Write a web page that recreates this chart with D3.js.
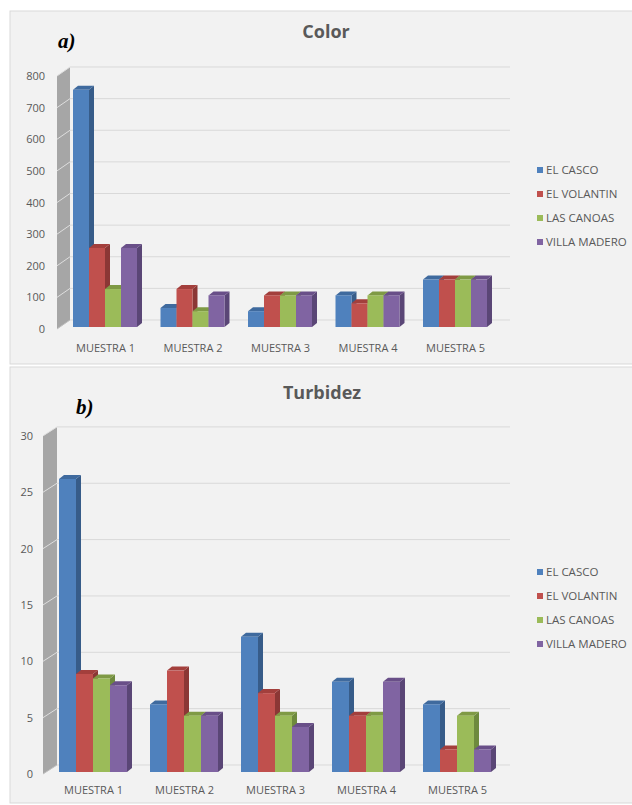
<!DOCTYPE html>
<html>
<head>
<meta charset="utf-8">
<script src="https://cdn.jsdelivr.net/npm/d3@7/dist/d3.min.js"></script>
<style>
  html, body { margin: 0; padding: 0; background: #ffffff; }
  svg { display: block; }
</style>
</head>
<body>
<svg id="chart" width="632" height="805"></svg>
<script>
// Sampling points and sites
const categories = ["MUESTRA 1", "MUESTRA 2", "MUESTRA 3", "MUESTRA 4", "MUESTRA 5"];
const series = ["EL CASCO", "EL VOLANTIN", "LAS CANOAS", "VILLA MADERO"];

// Color (one array per site, ordered like categories)
const colorElCasco     = [750, 60, 50, 100, 150];
const colorElVolantin  = [250, 120, 100, 75, 150];
const colorLasCanoas   = [120, 50, 100, 100, 150];
const colorVillaMadero = [250, 100, 100, 100, 150];
const colorTicks = [0, 100, 200, 300, 400, 500, 600, 700, 800];

// Turbidez
const turbElCasco     = [26, 6, 12, 8, 6];
const turbElVolantin  = [8.7, 9, 7, 5, 2];
const turbLasCanoas   = [8.3, 5, 5, 5, 5];
const turbVillaMadero = [7.7, 5, 4, 8, 2];
const turbTicks = [0, 5, 10, 15, 20, 25, 30];

const frontFill = ["#4f81bd", "#c0504d", "#9bbb59", "#8064a2"];
const topFill   = ["#3f6a9e", "#a33f3c", "#7f9a45", "#694f88"];
const sideFill  = ["#375c89", "#8b3735", "#6e8a3d", "#5a4676"];

const svg = d3.select("#chart");
const textColor = "#595959";
const fontSans = "'Open Sans', 'DejaVu Sans', sans-serif";

function drawPanel(cfg) {
  const g = svg.append("g");

  // panel background
  g.append("rect")
    .attr("x", cfg.panel[0]).attr("y", cfg.panel[1])
    .attr("width", cfg.panel[2]).attr("height", cfg.panel[3])
    .attr("fill", "#f2f2f2").attr("stroke", "#d9d9d9").attr("stroke-width", 1);

  const y = d3.scaleLinear().domain(cfg.domain).range(cfg.yRange);
  const x = d3.scalePoint().domain(categories).range(cfg.xRange);
  const xs = d3.scaleBand().domain(series).range([-cfg.groupW / 2, cfg.groupW / 2]).padding(0);

  const dBack = 7;    // vertical offset of the back wall from the bar plane
  const dFront = 2;   // offset of the front edge of the floor
  const wall = cfg.wall; // [leftX, rightX]

  // side wall
  const top = cfg.domain[1], bot = cfg.domain[0];
  g.append("polygon")
    .attr("points", [
      [wall[0], y(bot) + dFront], [wall[0], y(top) + dFront],
      [wall[1], y(top) - dBack], [wall[1], y(bot) - dBack]
    ].map(p => p.join(",")).join(" "))
    .attr("fill", "#a6a6a6");

  // gridlines on the back wall and the side wall
  g.selectAll(".grid").data(cfg.ticks).join("line")
    .attr("x1", wall[1]).attr("x2", cfg.gridEnd)
    .attr("y1", d => y(d) - dBack).attr("y2", d => y(d) - dBack)
    .attr("stroke", "#d9d9d9").attr("stroke-width", 1);
  g.selectAll(".wallgrid").data(cfg.ticks.slice(1)).join("line")
    .attr("x1", wall[0]).attr("x2", wall[1])
    .attr("y1", d => y(d) + dFront).attr("y2", d => y(d) - dBack)
    .attr("stroke", "#dedede").attr("stroke-width", 1);
  g.append("line")
    .attr("x1", wall[0]).attr("x2", wall[1])
    .attr("y1", y(bot) + dFront).attr("y2", y(bot) - dBack)
    .attr("stroke", "#bfbfbf").attr("stroke-width", 1);

  // value axis labels
  const axis = d3.axisLeft(y).tickValues(cfg.ticks).tickSize(0).tickPadding(0);
  const ax = g.append("g").attr("transform", `translate(${cfg.labelX},2)`).call(axis);
  ax.select(".domain").remove();
  ax.selectAll("text").attr("fill", textColor).style("font-family", fontSans).style("font-size", "11px");

  // category axis labels
  const cax = d3.axisBottom(x).tickSize(0).tickPadding(0);
  const cg = g.append("g").attr("transform", `translate(0,${cfg.catY})`).call(cax);
  cg.select(".domain").remove();
  cg.selectAll("text").attr("fill", textColor).style("font-family", fontSans).style("font-size", "11px");

  // 3D bars
  const dx = 5, dy = 4;
  const bw = xs.bandwidth();
  const base = y(0);
  categories.forEach((c, ci) => {
    series.forEach((s, si) => {
      const v = cfg.values[si][ci];
      const x0 = x(c) + xs(s);
      const yt = y(v);
      const bar = g.append("g");
      bar.append("polygon")
        .attr("points", [[x0 + bw, yt], [x0 + bw + dx, yt - dy], [x0 + bw + dx, base - dy], [x0 + bw, base]]
          .map(p => p.join(",")).join(" "))
        .attr("fill", sideFill[si]);
      bar.append("polygon")
        .attr("points", [[x0, yt], [x0 + dx, yt - dy], [x0 + bw + dx, yt - dy], [x0 + bw, yt]]
          .map(p => p.join(",")).join(" "))
        .attr("fill", topFill[si]);
      bar.append("rect")
        .attr("x", x0).attr("y", yt).attr("width", bw).attr("height", base - yt)
        .attr("fill", frontFill[si]);
    });
  });

  // title and panel letter
  g.append("text").attr("x", cfg.title[1]).attr("y", cfg.title[2])
    .attr("text-anchor", "middle").attr("fill", textColor)
    .style("font-family", fontSans).style("font-size", "18px").style("font-weight", "bold")
    .text(cfg.title[0]);
  g.append("text").attr("x", cfg.letter[1]).attr("y", cfg.letter[2])
    .attr("fill", "#000")
    .style("font-family", "'Liberation Serif', 'Times New Roman', serif")
    .style("font-size", "21px").style("font-weight", "bold").style("font-style", "italic")
    .text(cfg.letter[0]);

  // legend
  const leg = g.append("g").attr("transform", `translate(537,${cfg.legendY})`);
  series.forEach((s, si) => {
    const row = leg.append("g").attr("transform", `translate(0,${si * 24})`);
    row.append("rect").attr("x", 0).attr("y", -3).attr("width", 6).attr("height", 6).attr("fill", frontFill[si]);
    row.append("text").attr("x", 9).attr("y", 4)
      .attr("fill", textColor).style("font-family", fontSans).style("font-size", "11.5px")
      .text(s);
  });
}

drawPanel({
  panel: [10, 11, 640, 353],
  domain: [0, 800], yRange: [327, 74],
  ticks: colorTicks,
  xRange: [105, 455], groupW: 64,
  wall: [57, 70], gridEnd: 510,
  labelX: 45, catY: 344,
  values: [colorElCasco, colorElVolantin, colorLasCanoas, colorVillaMadero],
  title: ["Color", 326, 38],
  letter: ["a)", 58, 48],
  legendY: 170
});

drawPanel({
  panel: [10, 367, 640, 436],
  domain: [0, 30], yRange: [772, 433.9],
  ticks: turbTicks,
  xRange: [93, 457], groupW: 68,
  wall: [43, 57], gridEnd: 510,
  labelX: 33, catY: 786,
  values: [turbElCasco, turbElVolantin, turbLasCanoas, turbVillaMadero],
  title: ["Turbidez", 322, 399],
  letter: ["b)", 76, 414],
  legendY: 572
});
</script>
</body>
</html>
